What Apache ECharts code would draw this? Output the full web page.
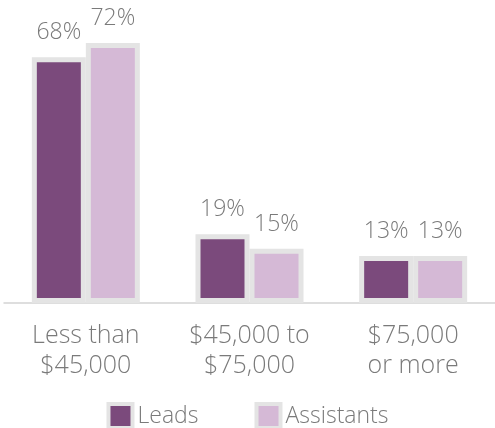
<!DOCTYPE html>
<html>
<head>
<meta charset="utf-8">
<script src="https://cdn.jsdelivr.net/npm/echarts@6/dist/echarts.min.js"></script>
<style>
html,body{margin:0;padding:0;background:#fff;}
#chart{width:495px;height:428px;}
</style>
</head>
<body>
<div id="chart"></div>
<script>
const categories = ['Less than\n$45,000', '$45,000 to\n$75,000', '$75,000\nor more'];
const leads = [68, 19, 13];
const assistants = [72, 15, 13];
const seriesNames = ['Leads', 'Assistants'];

const FONT = '"Open Sans", sans-serif';
const TEXT = '#7a7a7a';
const BORDER = '#e4e4e4';

const chart = echarts.init(document.getElementById('chart'), null, {renderer: 'canvas'});
const labelCfg = {
  show: true, position: 'top', distance: 13,
  formatter: '{c}%', color: TEXT, fontFamily: FONT, fontSize: 23, fontWeight: 300
};
chart.setOption({
  animation: false,
  grid: {left: 4, right: -2, top: 14, bottom: 125, containLabel: false},
  legend: {
    data: seriesNames, top: 402, left: 'center', padding: 0, icon: 'rect',
    itemWidth: 24, itemHeight: 24, itemGap: 56,
    textStyle: {color: TEXT, fontFamily: FONT, fontSize: 23, fontWeight: 300},
    itemStyle: {borderColor: BORDER, borderWidth: 4}
  },
  xAxis: {
    type: 'category', data: categories,
    axisLine: {lineStyle: {color: '#d4d4d4', width: 1.5}},
    axisTick: {show: false},
    axisLabel: {color: TEXT, fontFamily: FONT, fontSize: 25, fontWeight: 300, lineHeight: 30, margin: 18}
  },
  yAxis: {type: 'value', min: 0, max: 80, show: false, splitLine: {show: false}},
  series: [
    {name: seriesNames[0], type: 'bar', data: leads, barWidth: 54, barGap: '0%',
     itemStyle: {color: '#7b4a7c', borderColor: BORDER, borderWidth: 5}, label: labelCfg},
    {name: seriesNames[1], type: 'bar', data: assistants, barWidth: 54,
     itemStyle: {color: '#d5b9d6', borderColor: BORDER, borderWidth: 5}, label: labelCfg}
  ]
});
</script>
</body>
</html>
